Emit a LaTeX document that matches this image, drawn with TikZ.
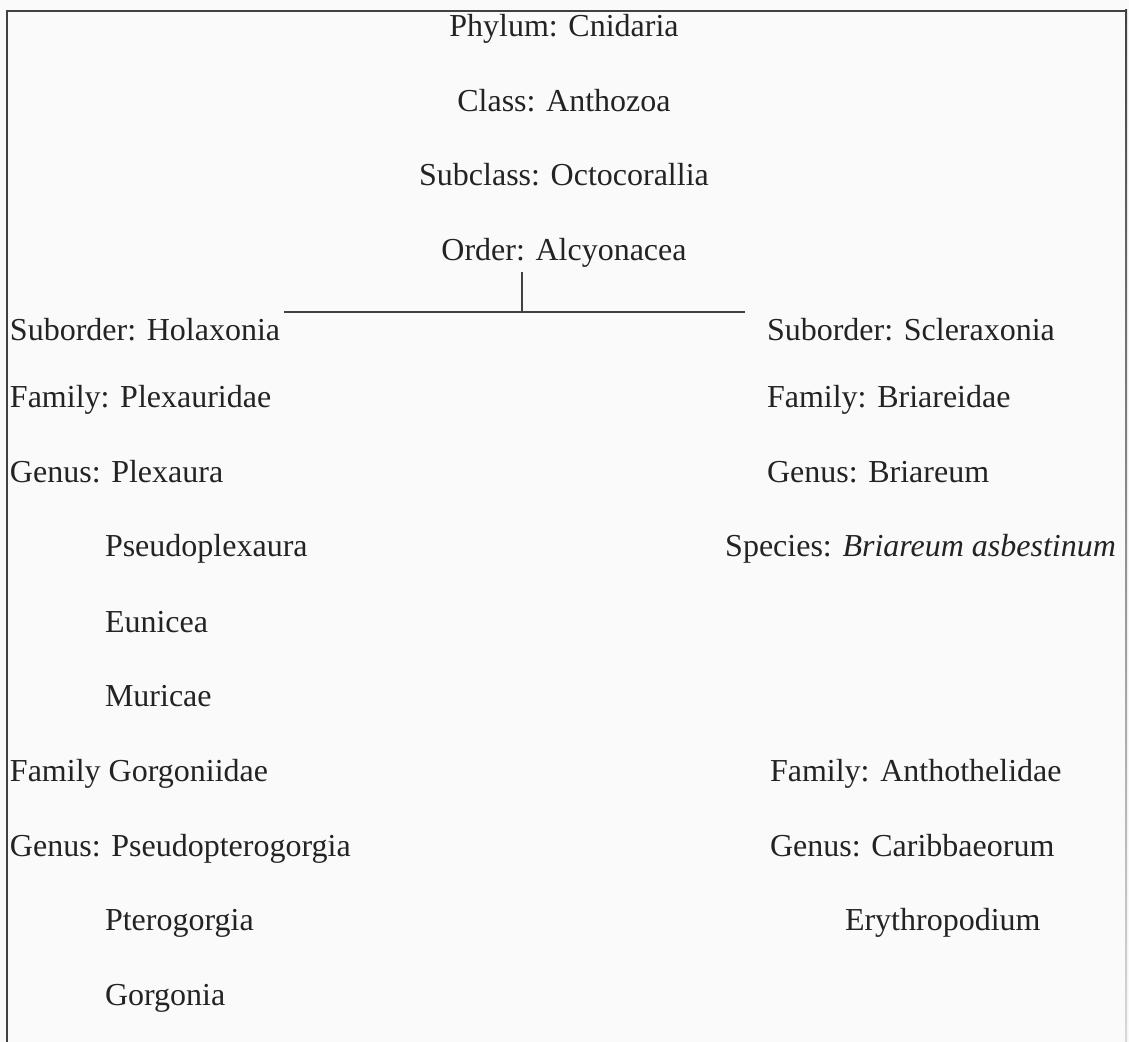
\documentclass[tikz,border=0pt]{standalone}
\usepackage{fontspec}
\setmainfont{Liberation Serif}
\definecolor{ink}{RGB}{35,35,35}
\definecolor{frame}{RGB}{65,65,65}
\definecolor{paper}{RGB}{250,250,250}
\begin{document}
\begin{tikzpicture}[x=0.5pt,y=-0.5pt,
  lbl/.style={inner sep=0pt,outer sep=0pt,font=\fontsize{16}{19}\selectfont,text=ink},
  lw/.style={lbl,anchor=base west},
  lc/.style={lbl,anchor=base},
  le/.style={lbl,anchor=base east},
  rule/.style={draw=frame,line width=1pt}]
\fill[paper] (0,0) rectangle (1129,1042);
\useasboundingbox (0,0) rectangle (1129,1042);
% frame (open at bottom, right edge fading downwards)
\coordinate (fbl) at (7,1042);
\coordinate (ftl) at (7,11);
\coordinate (ftr) at (1126,11);
\coordinate (fbr) at (1126,1042);
\draw[rule] (fbl) -- (ftl) -- (ftr);
\shade[top color=frame, bottom color=frame!20] (1125,10) rectangle (1127,1042);
% top ranks
\node[lc] (phy) at (564,37) {Phylum: Cnidaria};
\node[lc] (cla) at (564,112) {Class: Anthozoa};
\node[lc] (sub) at (564,186) {Subclass: Octocorallia};
\node[lc] (ord) at (564,261) {Order: Alcyonacea};
% left column
\node[lw] (hol) at (10,341) {Suborder: Holaxonia};
\node[lw] (ple) at (10,408) {Family: Plexauridae};
\node[lw] (gpl) at (10,483) {Genus: Plexaura};
\node[lw] (psp) at (105,557) {Pseudoplexaura};
\node[lw] (eun) at (105,632) {Eunicea};
\node[lw] (mur) at (105,706) {Muricae};
\node[lw] (gor) at (10,781) {Family Gorgoniidae};
\node[lw] (gps) at (10,856) {Genus: Pseudopterogorgia};
\node[lw] (pte) at (105,930) {Pterogorgia};
\node[lw] (ggo) at (105,1005) {Gorgonia};
% right column
\node[lw] (scl) at (767,341) {Suborder: Scleraxonia};
\node[lw] (bri) at (767,408) {Family: Briareidae};
\node[lw] (gbr) at (767,483) {Genus: Briareum};
\node[le] (spe) at (1116,557) {Species: \textit{Briareum asbestinum}};
\node[lw] (ant) at (770,781) {Family: Anthothelidae};
\node[lw] (gca) at (770,856) {Genus: Caribbaeorum};
\node[lw] (ery) at (845,930) {Erythropodium};
% connectors
\coordinate (jn) at (522,312);
\coordinate (jl) at ([xshift=2]hol.north east |- jn);
\coordinate (jr) at (745,312);
\draw[rule,line width=0.8pt] ([yshift=-2]ord.south west -| jn) -- (jn);
\draw[rule,line width=0.8pt] (jl) -- (jr);
\end{tikzpicture}
\end{document}
